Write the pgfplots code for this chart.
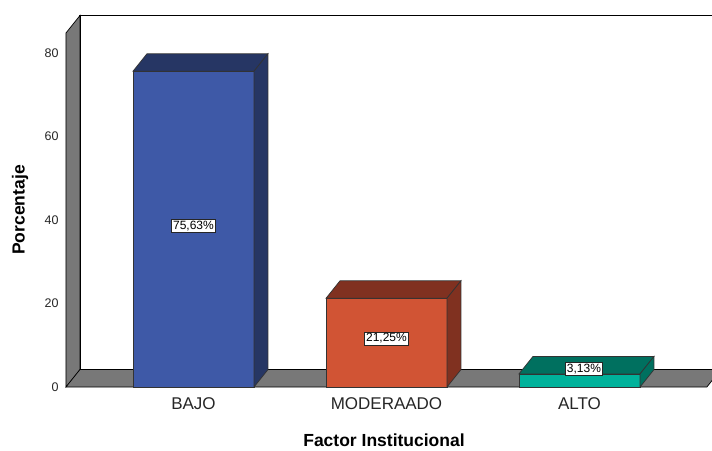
\documentclass[border=0pt]{standalone}
\usepackage{pgfplots}
\pgfplotsset{compat=1.18}
\usepackage{fontspec}
\setmainfont{Liberation Sans}

\definecolor{wallgray}{RGB}{120,120,120}
\definecolor{bajoF}{RGB}{62,89,167}
\definecolor{bajoD}{RGB}{38,54,100}
\definecolor{modF}{RGB}{209,84,52}
\definecolor{modD}{RGB}{128,49,32}
\definecolor{altoF}{RGB}{0,178,155}
\definecolor{altoD}{RGB}{0,112,95}

\begin{document}
\begin{tikzpicture}
\path[use as bounding box] (0,0) rectangle (712pt,450pt);
\begin{axis}[
  at={(66pt,63pt)}, anchor=south west,
  x=193pt, y=4.175pt,
  xmin=-0.6606, xmax=2.635, ymin=0, ymax=84.8,
  clip=false,
  axis line style={draw=none},
  major tick length=0pt,
  xtick={0,1,2}, xticklabels={BAJO,MODERAADO,ALTO},
  ytick={0,20,40,60,80},
  xticklabel shift=7pt,
  yticklabel shift=4pt,
  /pgf/number format/assume math mode=true,
  yticklabel style={font=\fontsize{12.5}{14}\selectfont, text=black!85},
  xticklabel style={font=\fontsize{17}{19}\selectfont, text=black!85},
  xlabel={Factor Institucional},
  ylabel={Porcentaje},
  xlabel style={font=\fontsize{17.5}{19}\selectfont\bfseries, at={(axis description cs:0.5,0)}, anchor=center, yshift=-53pt},
  ylabel style={font=\fontsize{17.5}{19}\selectfont\bfseries, at={(axis description cs:0,0.5)}, anchor=center, yshift=46pt},
]
% back wall
\addplot[fill=white, draw=black, line width=1.2pt, mark=none]
  coordinates {(-0.5881,4.19) (-0.5881,88.99) (2.80,88.99) (2.80,4.19)} --cycle;
% left wall
\addplot[fill=wallgray, draw=black, line width=0.7pt, mark=none]
  coordinates {(-0.6606,0) (-0.6606,84.8) (-0.5881,88.99) (-0.5881,4.19)} --cycle;
% floor
\addplot[fill=wallgray, draw=black, line width=0.7pt, mark=none]
  coordinates {(-0.6606,0) (2.66,0) (2.7325,4.19) (-0.5881,4.19)} --cycle;

% BAJO
\addplot[ybar, bar shift=0pt, bar width=0.627, fill=bajoF, draw=black!80, line width=0.7pt]
  coordinates {(0,75.63)};
\addplot[fill=bajoD, draw=black!80, line width=0.7pt, mark=none]
  coordinates {(-0.3135,75.63) (0.3135,75.63) (0.386,79.82) (-0.241,79.82)} --cycle;
\addplot[fill=bajoD, draw=black!80, line width=0.7pt, mark=none]
  coordinates {(0.3135,0) (0.386,4.19) (0.386,79.82) (0.3135,75.63)} --cycle;

% MODERAADO
\addplot[ybar, bar shift=0pt, bar width=0.627, fill=modF, draw=black!80, line width=0.7pt]
  coordinates {(1,21.25)};
\addplot[fill=modD, draw=black!80, line width=0.7pt, mark=none]
  coordinates {(0.6865,21.25) (1.3135,21.25) (1.386,25.44) (0.759,25.44)} --cycle;
\addplot[fill=modD, draw=black!80, line width=0.7pt, mark=none]
  coordinates {(1.3135,0) (1.386,4.19) (1.386,25.44) (1.3135,21.25)} --cycle;

% ALTO
\addplot[ybar, bar shift=0pt, bar width=0.627, fill=altoF, draw=black!80, line width=0.7pt]
  coordinates {(2,3.13)};
\addplot[fill=altoD, draw=black!80, line width=0.7pt, mark=none]
  coordinates {(1.6865,3.13) (2.3135,3.13) (2.386,7.32) (1.759,7.32)} --cycle;
\addplot[fill=altoD, draw=black!80, line width=0.7pt, mark=none]
  coordinates {(2.3135,0) (2.386,4.19) (2.386,7.32) (2.3135,3.13)} --cycle;

% value labels
\addplot[only marks, mark=none, point meta=explicit,
  nodes near coords={\pgfmathprintnumber[fixed,fixed zerofill,precision=2,use comma,assume math mode=true]{\pgfplotspointmeta}\%},
  nodes near coords align=center,
  every node near coord/.style={anchor=center, fill=white, draw=black!85, line width=0.6pt,
    inner sep=1.6pt, font=\fontsize{12}{13}\selectfont}]
  coordinates {(0,38.56) [75.63] (1,11.6) [21.25] (2.023,4.3) [3.13]};
\end{axis}
\end{tikzpicture}
\end{document}
